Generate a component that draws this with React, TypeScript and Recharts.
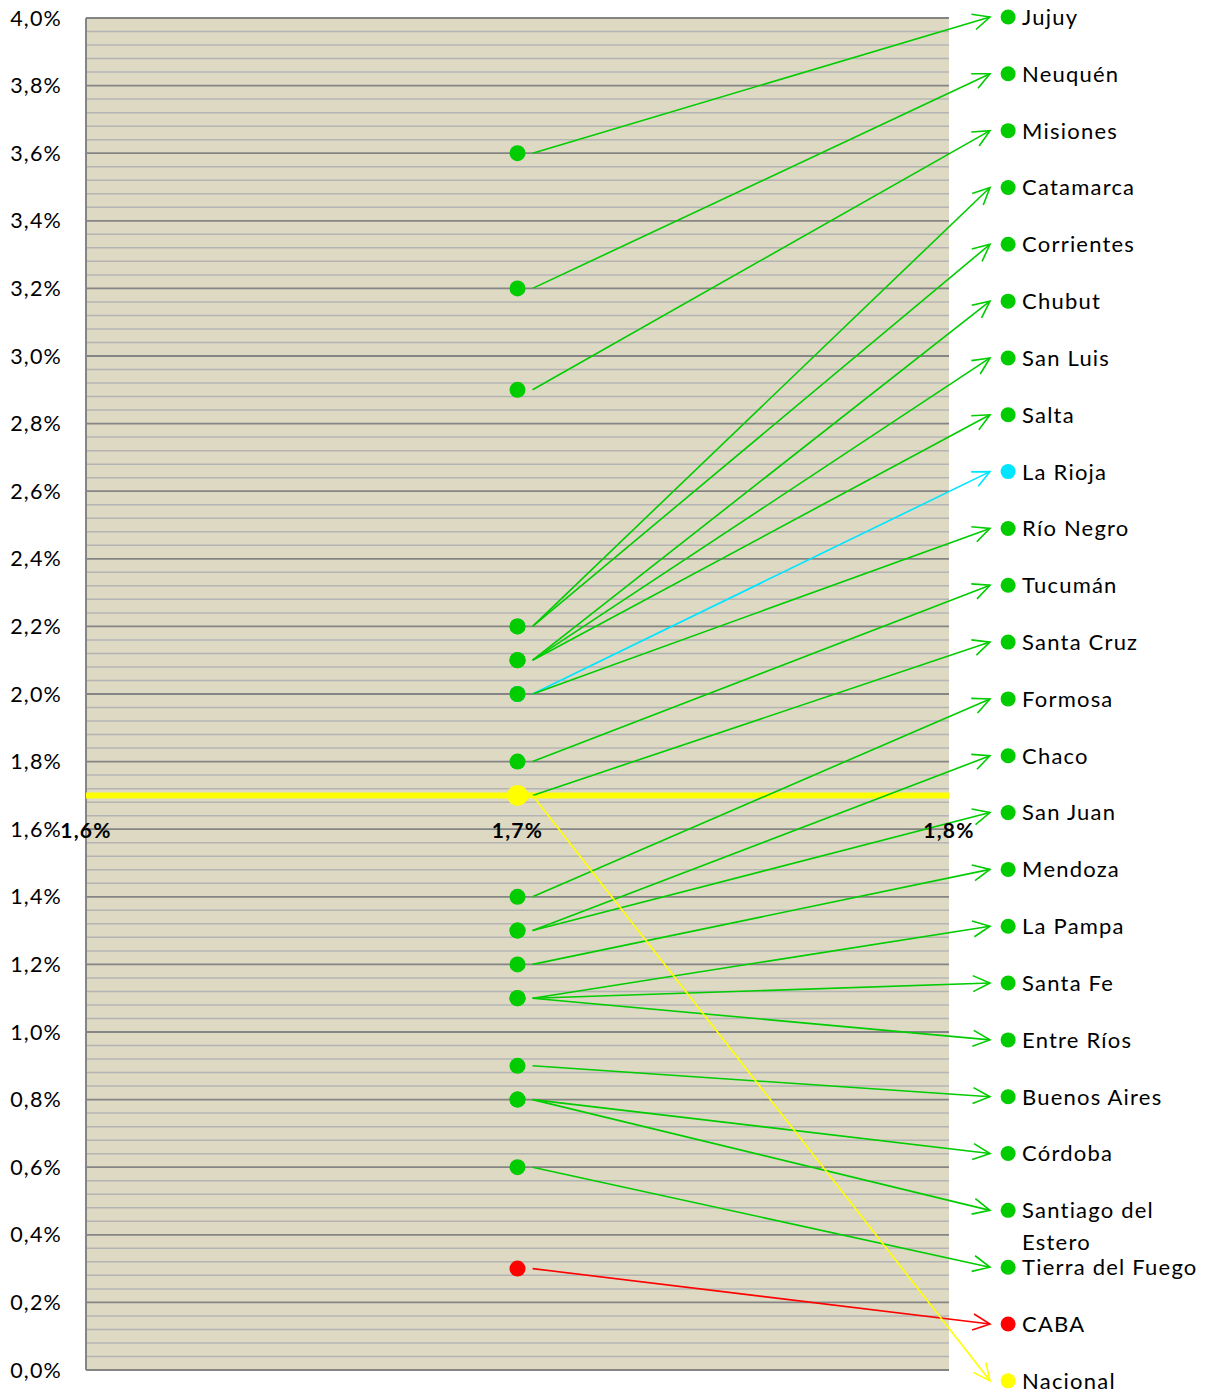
import React from 'react';
import { ComposedChart, Line, Scatter, XAxis, YAxis, ReferenceLine, ReferenceArea } from 'recharts';

// provinces in the order of the right-hand column
const PROVINCES = [
  'Jujuy', 'Neuquén', 'Misiones', 'Catamarca', 'Corrientes', 'Chubut', 'San Luis', 'Salta',
  'La Rioja', 'Río Negro', 'Tucumán', 'Santa Cruz', 'Formosa', 'Chaco', 'San Juan', 'Mendoza',
  'La Pampa', 'Santa Fe', 'Entre Ríos', 'Buenos Aires', 'Córdoba', 'Santiago del Estero',
  'Tierra del Fuego', 'CABA', 'Nacional',
];
const VALUES = [
  3.6, 3.2, 2.9, 2.2, 2.2, 2.1, 2.1, 2.1,
  2.0, 2.0, 1.8, 1.7, 1.4, 1.3, 1.3, 1.2,
  1.1, 1.1, 1.1, 0.9, 0.8, 0.8,
  0.6, 0.3, 1.7,
];
const X_TICKS = [1.6, 1.7, 1.8];
const Y_TICKS = [0, 0.2, 0.4, 0.6, 0.8, 1.0, 1.2, 1.4, 1.6, 1.8, 2.0, 2.2, 2.4, 2.6, 2.8, 3.0, 3.2, 3.4, 3.6, 3.8, 4.0];
const X_VALUE = 1.7;
const X_CROSS = 1.6;

const GREEN = '#00CC00';
const SPECIAL_COLORS: Record<string, string> = {
  'La Rioja': '#00E5FF',
  CABA: '#FF0000',
  Nacional: '#FFFF00',
};
const colorOf = (name: string) => SPECIAL_COLORS[name] ?? GREEN;

// layout of the label column (in data units)
const SLOT_TOP = 4.003;
const SLOT_STEP = 0.16813;
const X_LINE_START = 1.7035;
const X_ARROW = 1.8095;
const X_LABEL = 1.8137;

const FONT = 'Lato, "Open Sans", sans-serif';

const fmt = (v: number) => v.toFixed(1).replace('.', ',') + '%';

const minorGrid: number[] = [];
for (let i = 0; i <= 100; i++) if (i % 5 !== 0) minorGrid.push(i * 0.04);

const rows = PROVINCES.map((name, i) => ({
  name,
  value: VALUES[i],
  slot: SLOT_TOP - i * SLOT_STEP,
  color: colorOf(name),
}));

const points = rows.map((r) => ({ x: X_VALUE, y: r.value, name: r.name, color: r.color }));
const labels = rows.map((r) => ({ x: X_LABEL, y: r.slot, name: r.name, color: r.color }));
const xTickData = X_TICKS.map((x) => ({ x, y: X_CROSS }));

const markerId = (c: string) => 'arrow-' + c.replace('#', '');

const PointShape = (props: any) => {
  const { cx, cy, payload } = props;
  const r = payload.name === 'Nacional' ? 10.5 : 8;
  return <circle cx={cx} cy={cy} r={r} fill={payload.color} />;
};

const LabelShape = (props: any) => {
  const { cx, cy, payload } = props;
  const parts = payload.name === 'Santiago del Estero' ? ['Santiago del', 'Estero'] : [payload.name];
  return (
    <g>
      <circle cx={cx} cy={cy} r={7.5} fill={payload.color} />
      <text x={cx + 14} y={cy} fontSize={22} fontFamily={FONT} fill="#000" letterSpacing={1.2}>
        {parts.map((p: string, i: number) => (
          <tspan key={i} x={cx + 14} dy={i === 0 ? '0.36em' : 32}>{p}</tspan>
        ))}
      </text>
    </g>
  );
};

const XTickShape = (props: any) => {
  const { cx, cy, payload } = props;
  return (
    <text x={cx} y={cy} dy="0.4em" textAnchor="middle" fontSize={21} fontWeight="bold" fontFamily={FONT} fill="#000" letterSpacing={1.2}>
      {fmt(payload.x)}
    </text>
  );
};

export default function App() {
  const colors = Array.from(new Set(rows.map((r) => r.color)));
  return (
    <div style={{ position: 'absolute', left: 0, top: 0, width: 1211, height: 1396, overflow: 'hidden', background: '#fff' }}>
      <svg width={0} height={0} style={{ position: 'absolute' }}>
        <defs>
          {colors.map((c) => (
            <marker
              key={c}
              id={markerId(c)}
              viewBox="-20 -12 24 24"
              refX={0}
              refY={0}
              markerWidth={24}
              markerHeight={24}
              markerUnits="userSpaceOnUse"
              orient="auto"
            >
              <path d="M-17,-8 L0,0 L-17,8" fill="none" stroke={c} strokeWidth={1.6} />
            </marker>
          ))}
        </defs>
      </svg>
      <ComposedChart width={1211} height={1400} margin={{ top: 11.24, right: 3.1, bottom: 2.96, left: 0 }}>
        <XAxis type="number" dataKey="x" domain={[1.6, 1.86]} hide />
        <YAxis
          type="number"
          dataKey="y"
          domain={[-0.08, 4.02]}
          ticks={Y_TICKS}
          interval={0}
          width={86}
          axisLine={false}
          tickLine={false}
          tickSize={0}
          tickMargin={24}
          tickFormatter={fmt}
          tick={{ fontSize: 21.5, fill: '#000', fontFamily: FONT, letterSpacing: 1.2 }}
        />
        <ReferenceArea x1={1.6} x2={1.8} y1={0} y2={4} fill="#DDD9C3" fillOpacity={1} stroke="none" ifOverflow="visible" />
        {minorGrid.map((v) => (
          <ReferenceLine
            key={'mi' + v}
            segment={[{ x: 1.6, y: v }, { x: 1.8, y: v }]}
            stroke="#B4B4B4"
            strokeWidth={1.5}
            ifOverflow="visible"
          />
        ))}
        {Y_TICKS.map((v) => (
          <ReferenceLine
            key={'ma' + v}
            segment={[{ x: 1.6, y: v }, { x: 1.8, y: v }]}
            stroke="#858585"
            strokeWidth={1.8}
            ifOverflow="visible"
          />
        ))}
        <ReferenceLine segment={[{ x: 1.6, y: 0 }, { x: 1.6, y: 4 }]} stroke="#858585" strokeWidth={2} ifOverflow="visible" />
        <ReferenceLine segment={[{ x: 1.6, y: 1.7 }, { x: 1.8, y: 1.7 }]} stroke="#FFFF00" strokeWidth={6} ifOverflow="visible" />
        <Scatter data={xTickData} dataKey="y" shape={XTickShape} isAnimationActive={false} />
        {rows.map((r) => (
          <Line
            key={'ln' + r.name}
            data={[
              { x: X_LINE_START, y: r.value },
              { x: X_ARROW, y: r.slot },
            ]}
            dataKey="y"
            type="linear"
            stroke={r.color}
            strokeWidth={1.6}
            dot={false}
            activeDot={false}
            markerEnd={`url(#${markerId(r.color)})`}
            isAnimationActive={false}
          />
        ))}
        <Scatter data={points} dataKey="y" shape={PointShape} isAnimationActive={false} />
        <Scatter data={labels} dataKey="y" shape={LabelShape} isAnimationActive={false} />
      </ComposedChart>
    </div>
  );
}
